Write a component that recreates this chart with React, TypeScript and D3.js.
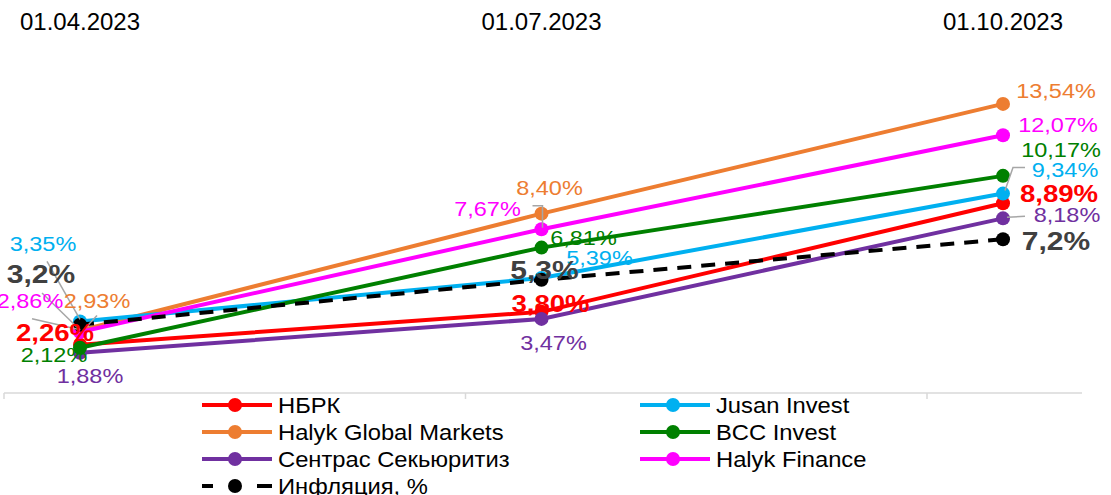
import React from 'react';
import { scaleLinear, line } from 'd3';

const categories = ['01.04.2023', '01.07.2023', '01.10.2023'];
const nbrk = [2.26, 3.8, 8.89];
const jusan = [3.35, 5.39, 9.34];
const halykGM = [2.93, 8.4, 13.54];
const bcc = [2.12, 6.81, 10.17];
const sentras = [1.88, 3.47, 8.18];
const halykFinance = [2.86, 7.67, 12.07];
const inflation = [3.2, 5.3, 7.2];

const W = 1111;
const H = 495;
const FONT = '"Liberation Sans", Arial, sans-serif';

// label placement relative to the point: [dx, dy] per category, plus optional leader lines
const series = [
  { name: 'НБРК', values: nbrk, color: '#FF0000', size: 23, sx: 1.2, bold: true, digits: 2,
    labels: [[-25, -4], [9, 0], [56, -1]],
    leaders: [[[-48, -26], [0, -15]], null, null] },
  { name: 'Halyk Global Markets', values: halykGM, color: '#ED7D31', digits: 2,
    labels: [[17, -22], [8, -19], [53, -6]],
    leaders: [[[17, -15], [3, 0]], [[-9, -8], [1, -8], [1, 14]], null] },
  { name: 'Сентрас Секьюритиз', values: sentras, color: '#7030A0', digits: 2,
    labels: [[10, 30], [12, 31], [64, 4]],
    leaders: [null, null, [[4, -1], [22, -2]]] },
  { name: 'Jusan Invest', values: jusan, color: '#00B0F0', digits: 2,
    labels: [[-37, -70], [58, -13], [62, -17]],
    leaders: [[[-33, -60], [0, -2]], null, [[2, -3], [10, -26], [22, -26]]] },
  { name: 'BCC Invest', values: bcc, color: '#008000', digits: 2,
    labels: [[-26, 14], [42, -3], [58, -19]],
    leaders: [null, null, null] },
  { name: 'Halyk Finance', values: halykFinance, color: '#FF00FF', digits: 2,
    labels: [[-50, -24], [-54, -13], [55, -3]],
    leaders: [[[-38, -39], [0, -2]], null, null] },
  { name: 'Инфляция, %', values: inflation, color: '#000000', textColor: '#404040', size: 25, sx: 1.2, bold: true, digits: 1, dashed: true,
    labels: [[-39, -42], [3, -1], [53, 11]],
    leaders: [null, null, null] },
];

const legendOrder = [
  ['НБРК', 'Jusan Invest'],
  ['Halyk Global Markets', 'BCC Invest'],
  ['Сентрас Секьюритиз', 'Halyk Finance'],
  ['Инфляция, %'],
];

const x = scaleLinear().domain([0, categories.length - 1]).range([80, 1003]);
const y = scaleLinear().domain([0, 16]).range([393, 51.4]);
const TICK_OFFSET = -76;

const fmt = (v: number, d: number) => v.toFixed(d).replace('.', ',') + '%';

const App = () => {
  const path = line<number>().x((_, i) => x(i)).y((d) => y(d));
  return (
    <svg width={W} height={H} style={{ position: 'absolute', left: 0, top: 0 }} fontFamily={FONT}>
      <rect width={W} height={H} fill="#fff" />
      {categories.map((c, i) => (
        <text key={c} x={x(i)} y={30} fontSize={24} textAnchor="middle" fill="#000">{c}</text>
      ))}
      <line x1={x(0) + TICK_OFFSET} x2={x(2) + 79} y1={y(0)} y2={y(0)} stroke="#D9D9D9" strokeWidth={1.5} />
      {categories.map((c, i) => (
        <line key={c} x1={x(i) + TICK_OFFSET} x2={x(i) + TICK_OFFSET} y1={y(0)} y2={y(0) + 6} stroke="#D9D9D9" strokeWidth={1.5} />
      ))}
      {series.map((s) => (
        <g key={s.name}>
          <path d={path(s.values) || ''} fill="none" stroke={s.color} strokeWidth={4}
            strokeDasharray={s.dashed ? '14 10' : undefined} />
          {s.values.map((v, i) => (
            <circle key={i} cx={x(i)} cy={y(v)} r={7} fill={s.color} />
          ))}
        </g>
      ))}
      {series.map((s) => s.leaders.map((l, i) => l && (
        <polyline key={s.name + i} fill="none" stroke="#A6A6A6" strokeWidth={1.5}
          points={l.map(([dx, dy]) => `${x(i) + dx},${y(s.values[i]) + dy}`).join(' ')} />
      )))}
      {series.map((s) => s.values.map((v, i) => (
        <text key={s.name + i}
          transform={`translate(${x(i) + s.labels[i][0]},${y(v) + s.labels[i][1]}) scale(${s.sx || 1.12},1)`}
          textAnchor="middle" fontSize={s.size || 21} fontWeight={s.bold ? 'bold' : 'normal'} fill={s.textColor || s.color}>
          {fmt(v, s.digits)}
        </text>
      )))}
      {legendOrder.map((row, r) => row.map((name, c) => {
        const s = series.find((d) => d.name === name)!;
        const lx = 202 + c * 438;
        const ly = 405 + r * 27;
        return (
          <g key={name}>
            {s.dashed ? (
              <>
                <line x1={lx} x2={lx + 11} y1={ly} y2={ly} stroke={s.color} strokeWidth={4} />
                <line x1={lx + 55} x2={lx + 70} y1={ly} y2={ly} stroke={s.color} strokeWidth={4} />
              </>
            ) : (
              <line x1={lx} x2={lx + 70} y1={ly} y2={ly} stroke={s.color} strokeWidth={4} />
            )}
            <circle cx={lx + 33} cy={ly} r={7} fill={s.color} />
            <text transform={`translate(${lx + 76},${ly + 8}) scale(1.08,1)`} fontSize={22} fill="#000">{name}</text>
          </g>
        );
      }))}
    </svg>
  );
};

export default App;
